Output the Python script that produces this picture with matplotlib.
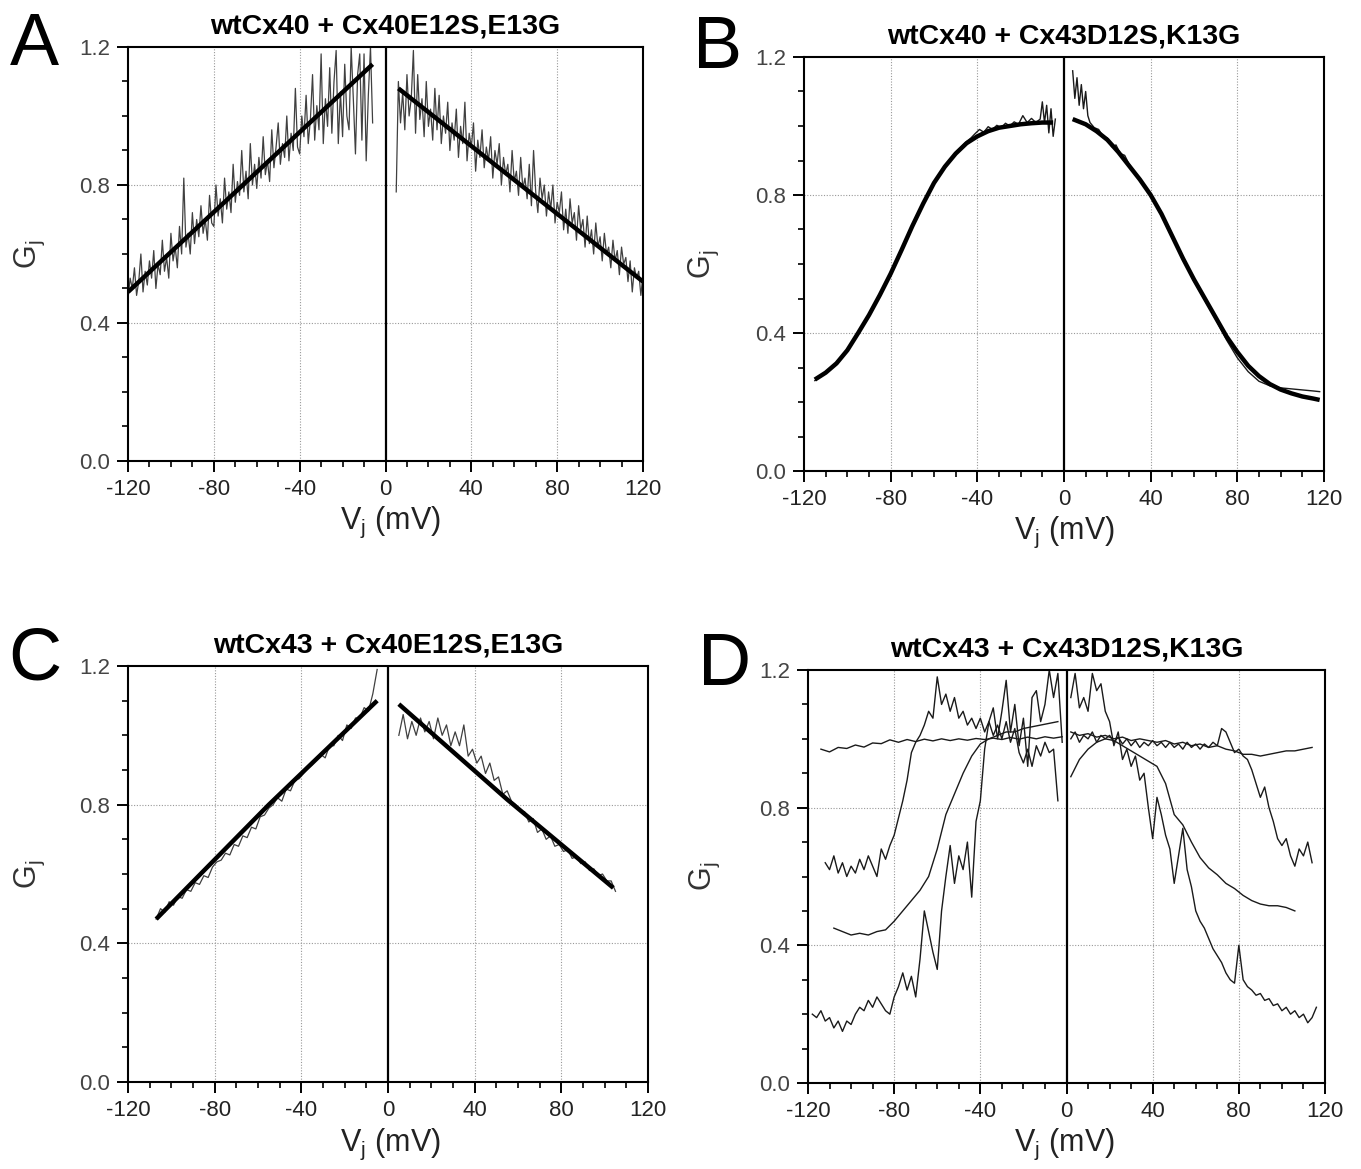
import numpy as np
import matplotlib
matplotlib.use('Agg')
import matplotlib.pyplot as plt
from matplotlib.ticker import MultipleLocator

plt.rcParams['font.family'] = ['Liberation Sans', 'DejaVu Sans']
plt.rcParams['mathtext.default'] = 'regular'
plt.rcParams['axes.unicode_minus'] = False

# ---- panel A: wtCx40 + Cx40E12S,E13G ----
a_x_neg = np.arange(-120, -5, 1)
a_g_neg = [0.47, 0.53, 0.50, 0.56, 0.48, 0.52, 0.60, 0.49, 0.55, 0.51,
           0.58, 0.53, 0.61, 0.50, 0.57, 0.54, 0.64, 0.55, 0.59, 0.53,
           0.66, 0.58, 0.62, 0.56, 0.68, 0.60, 0.82, 0.62, 0.66, 0.60,
           0.72, 0.63, 0.70, 0.65, 0.74, 0.66, 0.70, 0.64, 0.77, 0.69,
           0.68, 0.80, 0.71, 0.76, 0.69, 0.82, 0.73, 0.78, 0.72, 0.86,
           0.75, 0.81, 0.77, 0.90, 0.78, 0.84, 0.76, 0.92, 0.80, 0.86,
           0.79, 0.88, 0.82, 0.94, 0.83, 0.87, 0.81, 0.96, 0.85, 0.91,
           0.98, 0.86, 0.92, 0.88, 1.00, 0.87, 0.95, 0.90, 1.08, 0.91,
           0.89, 1.00, 0.94, 1.06, 0.92, 0.99, 1.12, 0.93, 1.03, 0.96,
           1.18, 0.92, 1.05, 0.97, 1.14, 0.95, 1.10, 1.19, 0.92, 1.07,
           0.94, 1.15, 1.00, 0.96, 1.20, 1.05, 0.89, 1.12, 1.18, 0.93,
           1.18, 0.87, 1.06, 1.20, 0.98]
a_x_pos = np.arange(5, 121, 1)
a_g_pos = [0.78, 1.10, 0.98, 1.07, 0.96, 1.12, 1.00, 1.05, 1.19, 0.95,
           1.12, 0.99, 1.05, 0.94, 1.10, 0.97, 1.02, 0.93, 1.08, 0.96,
           1.06, 0.92, 1.00, 0.95, 1.04, 0.90, 0.98, 0.93, 1.02, 0.88,
           0.97, 0.92, 1.04, 0.87, 0.95, 0.91, 0.98, 0.84, 0.93, 0.88,
           0.96, 0.85, 0.91, 0.87, 0.94, 0.82, 0.90, 0.86, 0.92, 0.80,
           0.88, 0.83, 0.86, 0.78, 0.90, 0.81, 0.84, 0.77, 0.88, 0.79,
           0.82, 0.76, 0.86, 0.74, 0.90, 0.78, 0.72, 0.82, 0.76, 0.80,
           0.71, 0.78, 0.73, 0.80, 0.69, 0.75, 0.72, 0.78, 0.67, 0.73,
           0.66, 0.76, 0.69, 0.72, 0.64, 0.74, 0.67, 0.70, 0.62, 0.71,
           0.63, 0.67, 0.60, 0.69, 0.62, 0.65, 0.58, 0.66, 0.60, 0.62,
           0.56, 0.64, 0.58, 0.61, 0.54, 0.62, 0.57, 0.59, 0.52, 0.58,
           0.49, 0.56, 0.53, 0.55, 0.48, 0.54]
a_fit_neg_x = [-120, -6]
a_fit_neg_g = [0.49, 1.15]
a_fit_pos_x = [6, 120]
a_fit_pos_g = [1.08, 0.52]

# ---- panel B: wtCx40 + Cx43D12S,K13G ----
b_fit_neg_x = [-115, -110, -105, -100, -95, -90, -85, -80, -75, -70, -65, -60,
               -55, -50, -45, -40, -35, -30, -25, -20, -15, -10, -5]
b_fit_neg_g = [0.265, 0.285, 0.312, 0.35, 0.40, 0.452, 0.51, 0.572, 0.64, 0.71,
               0.775, 0.835, 0.882, 0.92, 0.95, 0.97, 0.985, 0.995, 1.0, 1.005,
               1.008, 1.01, 1.01]
b_dat_neg_x = [-115, -110, -105, -100, -95, -90, -85, -80, -75, -70, -65, -60,
               -55, -50, -45, -43, -41, -39, -37, -35, -33, -31, -29, -27, -25,
               -23, -21, -19, -17, -15, -13, -11, -10, -9, -8, -7, -6, -5, -4]
b_dat_neg_g = [0.262, 0.283, 0.312, 0.352, 0.40, 0.452, 0.51, 0.572, 0.64,
               0.71, 0.775, 0.835, 0.883, 0.923, 0.955, 0.965, 0.978, 0.99,
               0.982, 0.998, 0.99, 1.002, 0.995, 1.008, 1.0, 1.012, 1.005,
               1.03, 1.01, 1.022, 1.01, 1.02, 1.07, 1.01, 1.06, 0.98, 1.05,
               0.97, 1.02]
b_fit_pos_x = [4, 10, 15, 20, 25, 30, 35, 40, 45, 50, 55, 60, 65, 70, 75, 80,
               85, 90, 95, 100, 105, 110, 115, 118]
b_fit_pos_g = [1.02, 1.005, 0.985, 0.96, 0.925, 0.885, 0.845, 0.80, 0.745,
               0.68, 0.615, 0.555, 0.50, 0.445, 0.39, 0.345, 0.305, 0.275, 0.252,
               0.236, 0.225, 0.216, 0.21, 0.206]
b_dat_pos_x = [4, 5, 6, 7, 8, 9, 10, 11, 12, 14, 16, 18, 20, 22, 24, 26, 28,
               30, 35, 40, 45, 50, 55, 60, 65, 70, 75, 80, 85, 90, 95, 100, 105,
               110, 115, 118]
b_dat_pos_g = [1.16, 1.08, 1.14, 1.06, 1.12, 1.05, 1.10, 1.03, 1.01, 0.995,
               0.99, 0.97, 0.965, 0.94, 0.945, 0.92, 0.915, 0.89, 0.845, 0.80,
               0.74, 0.68, 0.615, 0.55, 0.495, 0.44, 0.38, 0.328, 0.288, 0.26,
               0.247, 0.241, 0.238, 0.235, 0.232, 0.23]

# ---- panel C: wtCx43 + Cx40E12S,E13G ----
c_x_neg = np.arange(-107, -4, 2)
c_g_neg = [0.47, 0.50, 0.49, 0.52, 0.51, 0.535, 0.53, 0.555, 0.55, 0.575,
           0.57, 0.595, 0.59, 0.62, 0.635, 0.64, 0.66, 0.655, 0.685, 0.68,
           0.71, 0.705, 0.735, 0.73, 0.765, 0.77, 0.79, 0.80, 0.82, 0.81,
           0.845, 0.84, 0.87, 0.875, 0.89, 0.905, 0.915, 0.93, 0.945, 0.935,
           0.97, 0.97, 1.00, 0.985, 1.03, 1.02, 1.05, 1.05, 1.08, 1.07,
           1.12, 1.19]
c_x_pos = np.arange(5, 106, 2)
c_g_pos = [1.00, 1.06, 0.99, 1.04, 1.00, 1.05, 1.01, 1.04, 0.99, 1.05,
           1.00, 1.03, 0.97, 1.01, 0.97, 1.03, 0.94, 0.96, 0.92, 0.94,
           0.89, 0.92, 0.87, 0.88, 0.83, 0.84, 0.81, 0.80, 0.78, 0.78,
           0.75, 0.76, 0.72, 0.73, 0.70, 0.71, 0.68, 0.685, 0.665, 0.67,
           0.645, 0.65, 0.63, 0.635, 0.61, 0.615, 0.595, 0.60, 0.58, 0.58,
           0.55]
c_fit_neg_x = [-107, -55, -5]
c_fit_neg_g = [0.47, 0.80, 1.10]
c_fit_pos_x = [5, 55, 104]
c_fit_pos_g = [1.09, 0.815, 0.56]

# ---- panel D: wtCx43 + Cx43D12S,K13G (four traces) ----
d1_x_neg = np.arange(-114, 0, 4)
d1_g_neg = [0.97, 0.962, 0.975, 0.972, 0.982, 0.976, 0.988, 0.986, 0.997,
            0.99, 0.998, 0.992, 0.999, 0.994, 1.0, 0.995, 1.0, 0.996, 1.001,
            0.998, 1.002, 0.998, 1.004, 0.999, 1.005, 1.0, 1.006, 1.002, 1.006]
d1_x_pos = np.arange(2, 115, 4)
d1_g_pos = [1.02, 1.01, 1.015, 1.005, 1.01, 1.0, 1.005, 0.995, 1.0, 0.995,
            0.99, 0.995, 0.985, 0.99, 0.98, 0.985, 0.975, 0.98, 0.97, 0.965,
            0.955, 0.955, 0.95, 0.955, 0.96, 0.965, 0.965, 0.97, 0.975]

d2_x_neg = np.arange(-112, -3, 2)
d2_g_neg = [0.64, 0.62, 0.66, 0.61, 0.64, 0.60, 0.63, 0.61, 0.65, 0.62,
            0.66, 0.63, 0.60, 0.68, 0.65, 0.69, 0.72, 0.77, 0.82, 0.88,
            0.96, 0.99, 1.01, 1.04, 1.08, 1.06, 1.18, 1.10, 1.13, 1.08,
            1.12, 1.06, 1.08, 1.04, 1.06, 1.03, 1.06, 1.02, 1.05, 1.01,
            1.04, 1.00, 1.05, 0.99, 1.03, 0.96, 0.93, 0.97, 0.92, 0.98,
            0.95, 0.99, 0.96, 0.97, 0.82]
d2_x_pos = np.arange(2, 115, 2)
d2_g_pos = [1.0, 1.02, 0.99, 1.01, 1.0, 1.02, 0.99, 1.01, 1.0, 1.01,
            0.99, 1.005, 0.985, 1.0, 0.98, 0.995, 0.975, 0.99, 0.98, 0.995,
            0.98, 0.99, 0.975, 0.99, 0.975, 0.985, 0.97, 0.99, 0.975, 0.985,
            0.97, 0.985, 0.975, 0.99, 0.98, 1.03, 1.02, 0.99, 0.96, 0.97,
            0.95, 0.94, 0.91, 0.87, 0.83, 0.86, 0.80, 0.76, 0.71, 0.69,
            0.71, 0.66, 0.63, 0.68, 0.66, 0.70, 0.64]

d3_x_neg = np.arange(-108, -3, 4)
d3_g_neg = [0.45, 0.44, 0.43, 0.435, 0.43, 0.44, 0.445, 0.47, 0.50, 0.53,
            0.56, 0.60, 0.68, 0.78, 0.84, 0.90, 0.95, 0.985, 1.0, 1.01,
            1.02, 1.02, 1.03, 1.035, 1.04, 1.045, 1.05]
d3_x_pos = np.arange(2, 107, 4)
d3_g_pos = [0.89, 0.94, 0.97, 0.99, 1.0, 0.995, 0.98, 0.965, 0.95, 0.935,
            0.92, 0.87, 0.78, 0.75, 0.70, 0.655, 0.625, 0.605, 0.58, 0.565,
            0.545, 0.53, 0.52, 0.515, 0.515, 0.51, 0.50]

d4_x_neg = np.arange(-118, -1, 2)
d4_g_neg = [0.20, 0.19, 0.21, 0.18, 0.19, 0.16, 0.18, 0.15, 0.18, 0.17,
            0.20, 0.22, 0.21, 0.24, 0.22, 0.25, 0.23, 0.21, 0.20, 0.25,
            0.28, 0.32, 0.27, 0.31, 0.25, 0.36, 0.50, 0.44, 0.38, 0.33,
            0.50, 0.60, 0.69, 0.58, 0.66, 0.62, 0.70, 0.54, 0.76, 0.82,
            0.97, 1.05, 1.09, 1.00, 1.08, 1.17, 1.02, 1.10, 0.98, 1.06,
            0.92, 1.12, 1.14, 1.05, 1.10, 1.20, 1.12, 1.19, 0.99]
d4_x_pos = np.arange(2, 117, 2)
d4_g_pos = [1.12, 1.19, 1.09, 1.12, 1.08, 1.19, 1.14, 1.16, 1.08, 1.05,
            0.98, 1.02, 0.94, 0.97, 0.92, 0.95, 0.88, 0.90, 0.80, 0.71,
            0.83, 0.78, 0.72, 0.68, 0.58, 0.66, 0.74, 0.62, 0.57, 0.50,
            0.47, 0.45, 0.42, 0.39, 0.37, 0.35, 0.32, 0.30, 0.29, 0.40,
            0.30, 0.28, 0.27, 0.255, 0.26, 0.24, 0.245, 0.225, 0.23, 0.21,
            0.22, 0.20, 0.21, 0.19, 0.20, 0.175, 0.19, 0.22]

titles = ['wtCx40 + Cx40E12S,E13G', 'wtCx40 + Cx43D12S,K13G',
          'wtCx43 + Cx40E12S,E13G', 'wtCx43 + Cx43D12S,K13G']
letters = ['A', 'B', 'C', 'D']
x_ticks = [-120, -80, -40, 0, 40, 80, 120]
y_ticks = [0.0, 0.4, 0.8, 1.2]

W, H = 1361, 1169
fig = plt.figure(figsize=(W / 100, H / 100), dpi=100)


def px_axes(l, r, t, b):
    return fig.add_axes([l / W, 1 - b / H, (r - l) / W, (b - t) / H])


axA = px_axes(128, 643, 47, 461)
axB = px_axes(804, 1324, 57, 471)
axC = px_axes(128, 648, 666, 1082)
axD = px_axes(808, 1325, 670, 1083)
axes = [axA, axB, axC, axD]

# letter x / baseline in pixels, ylabel right edge, xlabel position (axes fractions)
letter_pos = [(10, 65), (693, 68), (8, 680), (698, 685)]
ylab_x = [-0.157, -0.16, -0.156, -0.166]
xlab_xy = [(0.51, -0.105), (0.50, -0.105), (0.504, -0.107), (0.497, -0.107)]

noise_kw = dict(color='0.25', lw=0.9)
fit_kw = dict(color='black', lw=3.2, solid_capstyle='butt')

axA.plot(a_x_neg, a_g_neg, **noise_kw)
axA.plot(a_x_pos, a_g_pos, **noise_kw)
axA.plot(a_fit_neg_x, a_fit_neg_g, **fit_kw)
axA.plot(a_fit_pos_x, a_fit_pos_g, **fit_kw)

axB.plot(b_dat_neg_x, b_dat_neg_g, color='0.1', lw=1.0)
axB.plot(b_dat_pos_x, b_dat_pos_g, color='0.1', lw=1.0)
axB.plot(b_fit_neg_x, b_fit_neg_g, **fit_kw)
axB.plot(b_fit_pos_x, b_fit_pos_g, **fit_kw)

axC.plot(c_x_neg, c_g_neg, **noise_kw)
axC.plot(c_x_pos, c_g_pos, **noise_kw)
axC.plot(c_fit_neg_x, c_fit_neg_g, **fit_kw)
axC.plot(c_fit_pos_x, c_fit_pos_g, **fit_kw)

for xs, gs in [(d1_x_neg, d1_g_neg), (d1_x_pos, d1_g_pos),
               (d2_x_neg, d2_g_neg), (d2_x_pos, d2_g_pos),
               (d3_x_neg, d3_g_neg), (d3_x_pos, d3_g_pos),
               (d4_x_neg, d4_g_neg), (d4_x_pos, d4_g_pos)]:
    axD.plot(xs, gs, color='0.1', lw=1.0)

for i, ax in enumerate(axes):
    ax.set_xlim(-120, 120)
    ax.set_ylim(0, 1.2)
    ax.axvline(0, color='black', lw=1.6, zorder=3)
    ax.set_xticks(x_ticks)
    ax.set_yticks(y_ticks)
    ax.set_yticklabels([f'{v:.1f}' for v in y_ticks])
    ax.xaxis.set_minor_locator(MultipleLocator(10))
    ax.yaxis.set_minor_locator(MultipleLocator(0.1))
    ax.tick_params(which='major', direction='out', length=8, width=1.4,
                   labelsize=16, pad=5, colors='black')
    ax.tick_params(which='minor', direction='out', length=4.5, width=1.2)
    ax.tick_params(axis='x', labelcolor='#222222')
    ax.tick_params(axis='y', labelcolor='#444444')
    for s in ax.spines.values():
        s.set_linewidth(1.5)
    for v in [-80, -40, 40, 80]:
        ax.axvline(v, color='0.6', lw=0.8, ls=(0, (1, 1.5)), zorder=0)
    for v in [0.4, 0.8]:
        ax.axhline(v, color='0.6', lw=0.8, ls=(0, (1, 1.5)), zorder=0)
    ax.set_title(titles[i], fontsize=20.5, fontweight='bold', pad=10)
    ax.set_ylabel(r'G$_\mathregular{j}$', fontsize=22, color='#333333')
    ax.yaxis.set_label_coords(ylab_x[i], 0.5)
    ax.set_xlabel(r'V$_\mathregular{j}$ (mV)', fontsize=22, color='#222222')
    ax.xaxis.set_label_coords(*xlab_xy[i])
    lx, ly = letter_pos[i]
    fig.text(lx / W, 1 - ly / H, letters[i], fontsize=53, va='baseline',
             ha='left')

fig.savefig('out.png', dpi=100)
